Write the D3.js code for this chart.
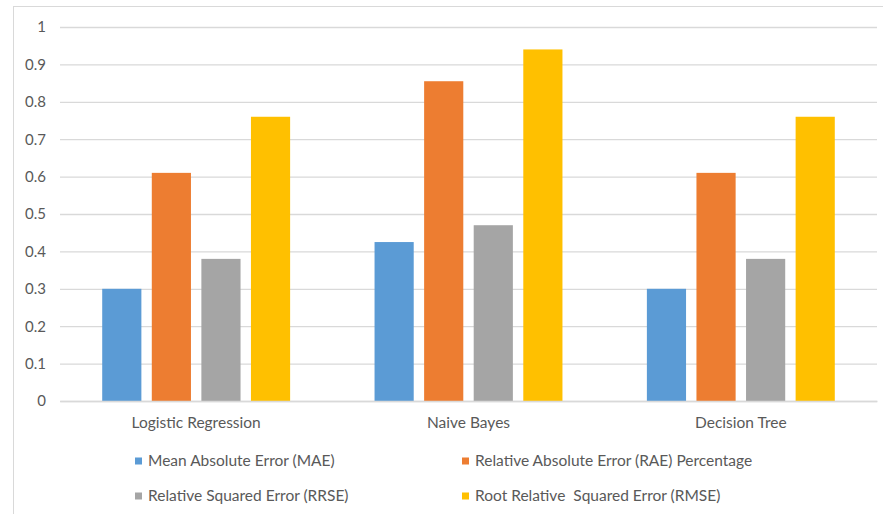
<!DOCTYPE html>
<html>
<head>
<meta charset="utf-8">
<script src="https://cdn.jsdelivr.net/npm/d3@7"></script>
<style>
  html, body { margin: 0; padding: 0; background: #fff; }
  svg { display: block; font-family: Lato, "Open Sans", sans-serif; }
  text { white-space: pre; }
</style>
</head>
<body>
<svg id="chart" width="883" height="514"></svg>
<script>
// Error metrics per classifier
const categories = ["Logistic Regression", "Naive Bayes", "Decision Tree"];
const seriesNames = [
  "Mean Absolute Error (MAE)",
  "Relative Absolute Error (RAE) Percentage",
  "Relative Squared Error (RRSE)",
  "Root Relative  Squared Error (RMSE)"
];
const mae  = [0.30, 0.425, 0.30];
const rae  = [0.61, 0.855, 0.61];
const rrse = [0.38, 0.47, 0.38];
const rmse = [0.76, 0.94, 0.76];
const yTicks = [0, 0.1, 0.2, 0.3, 0.4, 0.5, 0.6, 0.7, 0.8, 0.9, 1];
const colors = ["#5b9bd5", "#ed7d31", "#a5a5a5", "#ffc000"];

const series = [mae, rae, rrse, rmse];

const svg = d3.select("#chart");
const W = 883, H = 514;
const plot = { left: 60, right: 877, top: 27, bottom: 401 };
const textColor = "#595959";

// Outer chart frame
svg.append("rect")
  .attr("x", 13.5).attr("y", 6.5)
  .attr("width", W + 10).attr("height", H + 10)
  .attr("fill", "#fff").attr("stroke", "#d9d9d9");

const y = d3.scaleLinear().domain([0, 1]).range([plot.bottom, plot.top]);
const x0 = d3.scaleBand().domain(categories).range([plot.left, plot.right])
  .paddingInner(0.31).paddingOuter(0.155);
const x1 = d3.scaleBand().domain(d3.range(seriesNames.length))
  .range([0, x0.bandwidth()]).paddingInner(0.21);

// Horizontal gridlines and y labels
const yAxis = d3.axisLeft(y).tickValues(yTicks)
  .tickFormat(d => d3.format("~g")(d))
  .tickSize(-(plot.right - plot.left)).tickPadding(14);
const gy = svg.append("g").attr("transform", `translate(${plot.left},0)`).call(yAxis);
gy.select(".domain").remove();
gy.selectAll(".tick line").attr("stroke", "#d9d9d9").attr("stroke-width", 1.3);
gy.selectAll(".tick text").attr("fill", textColor).style("font-size", "15px")
  .style("font-family", "Lato, sans-serif");

// Bars
const groups = svg.append("g").selectAll("g").data(categories).join("g")
  .attr("transform", d => `translate(${x0(d)},0)`);
groups.selectAll("rect")
  .data((c, ci) => series.map((s, si) => ({ si, v: s[ci] })))
  .join("rect")
  .attr("x", d => x1(d.si))
  .attr("width", x1.bandwidth())
  .attr("y", d => y(d.v))
  .attr("height", d => y(0) - y(d.v))
  .attr("fill", d => colors[d.si]);

// Category axis labels
const xAxis = d3.axisBottom(x0).tickSize(0).tickPadding(16);
const gx = svg.append("g").attr("transform", `translate(0,${plot.bottom})`).call(xAxis);
gx.select(".domain").attr("stroke", "#d9d9d9").attr("stroke-width", 1.3);
gx.selectAll(".tick text").attr("fill", textColor).style("font-size", "15.5px")
  .style("font-family", "Lato, sans-serif");

// Legend: two columns, two rows
const legendPos = [
  { x: 135, y: 461 }, { x: 462, y: 461 },
  { x: 135, y: 496 }, { x: 462, y: 496 }
];
const legend = svg.append("g").selectAll("g").data(seriesNames).join("g")
  .attr("transform", (d, i) => `translate(${legendPos[i].x},${legendPos[i].y})`);
legend.append("rect").attr("x", 0).attr("y", -3.5).attr("width", 7).attr("height", 7)
  .attr("fill", (d, i) => colors[i]);
legend.append("text").attr("x", 13).attr("y", 0).attr("dy", "0.35em")
  .attr("fill", textColor).style("font-size", "15.5px").text(d => d);
</script>
</body>
</html>
